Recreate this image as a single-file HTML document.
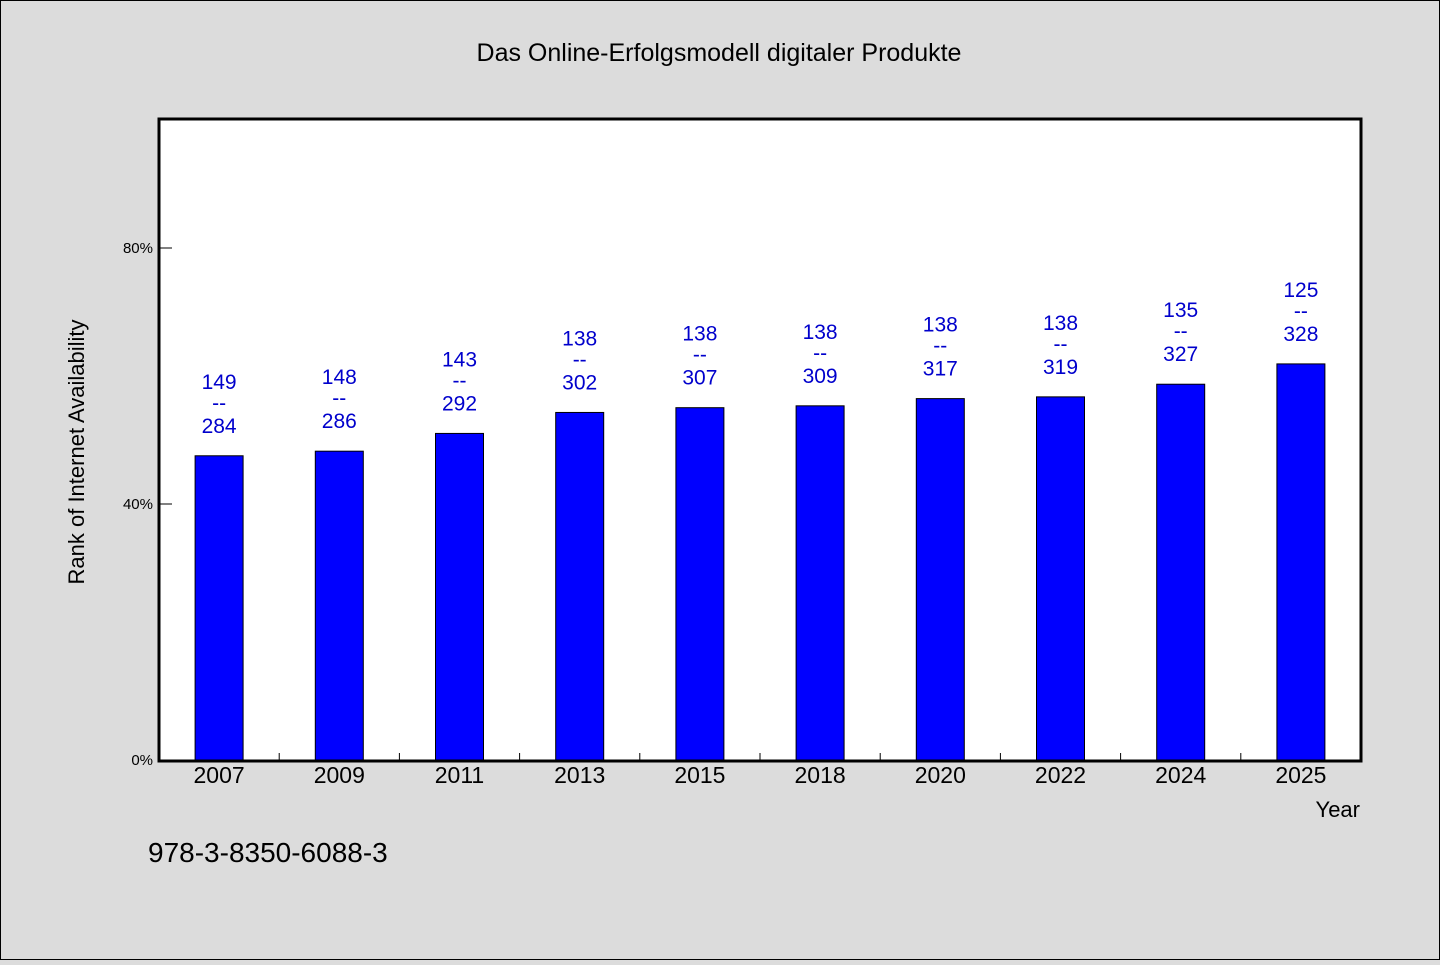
<!DOCTYPE html>
<html><head><meta charset="utf-8"><style>
body{margin:0;background:#dcdcdc;}
svg text{font-family:"WenQuanYi Zen Hei","Liberation Sans",sans-serif;}
</style></head><body>
<svg width="1440" height="960" xmlns="http://www.w3.org/2000/svg">
<rect x="0.5" y="0.5" width="1439" height="959" fill="#dcdcdc" stroke="#000"/>
<text x="719" y="61" font-size="25" text-anchor="middle">Das Online-Erfolgsmodell digitaler Produkte</text>
<rect x="159" y="119" width="1202" height="642" fill="#fff" stroke="#000" stroke-width="3"/>
<text transform="translate(84,452) rotate(-90)" font-size="22" text-anchor="middle">Rank of Internet Availability</text>
<text x="1360" y="817" font-size="22" text-anchor="end">Year</text>
<text x="148" y="862" font-size="28">978-3-8350-6088-3</text>
<g id="g"></g>
</svg>
<script>
const years=["2007","2009","2011","2013","2015","2018","2020","2022","2024","2025"];
const nums=[149,148,143,138,138,138,138,138,135,125];
const dens=[284,286,292,302,307,309,317,319,327,328];
const yTicks=[0,40,80];
const g=document.getElementById('g');
const NS='http://www.w3.org/2000/svg';
const x0=159,x1=1361,yB=760,pxPer=6.4;
const step=(x1-x0)/years.length;
const xc=i=>x0+step*(i+0.5);
const ys=v=>yB-v*pxPer;
function mk(t,a){const e=document.createElementNS(NS,t);for(const k in a)e.setAttribute(k,a[k]);g.appendChild(e);return e;}
yTicks.forEach(v=>{
 const l=mk('line',{x1:160,x2:172,y1:ys(v),y2:ys(v),stroke:'#000'});
 
 
 const t=mk('text',{x:153,y:ys(v)+5,'font-size':15,'text-anchor':'end'});t.textContent=v+'%';
 
 
});
for(let i=1;i<years.length;i++){
 const l=mk('line',{x1:x0+step*i,x2:x0+step*i,y1:753,y2:760,stroke:'#000'});
 
 
}
years.forEach((y,i)=>{
 const v=(1-nums[i]/dens[i])*100;
 const top=ys(v);
 const b=mk('rect',{x:xc(i)-24,y:top,width:48,height:yB-top,fill:'#0000ff',stroke:'#000','stroke-width':1});
 
 
 const t=mk('text',{x:xc(i),y:783,'font-size':23,'text-anchor':'middle'});t.textContent=y;
 
 
 const n=mk('text',{x:xc(i),y:top-67,'font-size':21,'text-anchor':'middle',fill:'#0000cc'});n.textContent=nums[i];
 
 
 const d=mk('text',{x:xc(i),y:top-46,'font-size':21,'text-anchor':'middle',fill:'#0000cc'});d.textContent='--';
 
 
 const m=mk('text',{x:xc(i),y:top-23,'font-size':21,'text-anchor':'middle',fill:'#0000cc'});m.textContent=dens[i];
 
 
});
</script>
</body></html>
